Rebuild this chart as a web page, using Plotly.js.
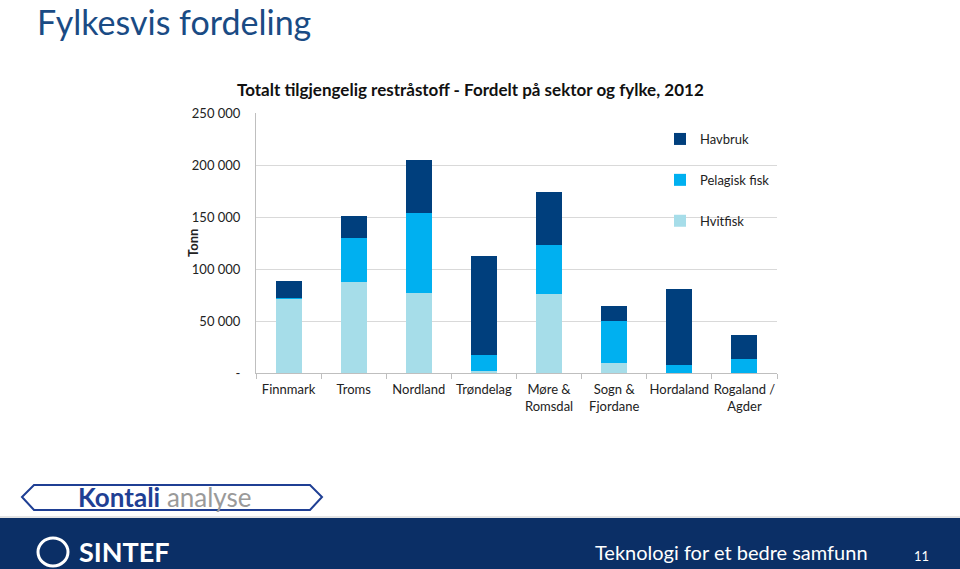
<!DOCTYPE html>
<html>
<head>
<meta charset="utf-8">
<script src="https://cdn.plot.ly/plotly-3.0.1.min.js"></script>
<style>
  html, body { margin: 0; padding: 0; background: #fff; }
  #plot { width: 960px; height: 569px; }
</style>
</head>
<body>
<div id="plot"></div>
<script>
// chart data
var fylker = ['Finnmark', 'Troms', 'Nordland', 'Trøndelag', 'Møre &<br>Romsdal',
              'Sogn &<br>Fjordane', 'Hordaland', 'Rogaland /<br>Agder'];
var hvitfisk = [71000, 87600, 77000, 1600, 76400, 10000, 0, 0];
var pelagisk = [1500, 42400, 77100, 16100, 46500, 40400, 7700, 13500];
var havbruk  = [16300, 21200, 51000, 94700, 51400, 13800, 73200, 22800];

var yTicks = [0, 50000, 100000, 150000, 200000, 250000];
var yTickText = ['-', '50 000', '100 000', '150 000', '200 000', '250 000'];

// plot area in page pixels
var L = 256, R = 777, T = 113, B = 373;
function px(x) { return (x - L) / (R - L); }
function py(y) { return (B - y) / (B - T); }

var font = 'Lato, "Open Sans", sans-serif';

var traces = [
    { name: 'Hvitfisk', y: hvitfisk, color: '#a6dde9', rank: 3 },
    { name: 'Pelagisk fisk', y: pelagisk, color: '#00b0f0', rank: 2 },
    { name: 'Havbruk', y: havbruk, color: '#003f7d', rank: 1 }
].map(function (s) {
    return {
        type: 'bar',
        x: fylker,
        y: s.y,
        name: s.name,
        legendgroup: s.name,
        legendrank: s.rank,
        marker: { color: s.color },
        hoverinfo: 'x+y+name'
    };
});

var layout = {
    width: 960,
    height: 569,
    margin: { l: L, r: 960 - R, t: T, b: 569 - B },
    paper_bgcolor: '#ffffff',
    plot_bgcolor: '#ffffff',
    font: { family: font, size: 13, color: '#222' },
    barmode: 'stack',
    bargap: 0.6,
    showlegend: true,
    legend: {
        x: px(660), y: py(124), xanchor: 'left', yanchor: 'top',
        traceorder: 'grouped',
        tracegroupgap: 21,
        font: { size: 13, color: '#222' },
        bgcolor: 'rgba(0,0,0,0)'
    },
    xaxis: {
        showgrid: false,
        showline: true, linecolor: '#bfbfbf', linewidth: 1,
        ticks: 'outside', tickson: 'boundaries', ticklen: 5, tickcolor: '#bfbfbf',
        tickangle: 0,
        ticklabelstandoff: 4,
        tickfont: { size: 13, color: '#222' },
        fixedrange: true
    },
    yaxis: {
        range: [0, 250000],
        tickvals: yTicks,
        ticktext: yTickText,
        showgrid: true, gridcolor: '#d9d9d9',
        showline: true, linecolor: '#bfbfbf',
        zeroline: false,
        ticks: '',
        ticklabelstandoff: 12,
        tickfont: { size: 13, color: '#222' },
        fixedrange: true
    },
    shapes: [
        // dark footer band
        { type: 'rect', xref: 'paper', yref: 'paper',
          x0: px(0), x1: px(960), y0: py(518), y1: py(569),
          fillcolor: '#0b2f66', line: { width: 0 }, layer: 'above' },
        { type: 'line', xref: 'paper', yref: 'paper',
          x0: px(0), x1: px(960), y0: py(517), y1: py(517),
          line: { color: '#c8c8c8', width: 1 } },
        // SINTEF ring
        { type: 'circle', xref: 'paper', yref: 'paper',
          x0: px(38), x1: px(68), y0: py(538), y1: py(566),
          line: { color: '#ffffff', width: 3 }, layer: 'above' },
        // Kontali frame
        { type: 'path', xref: 'paper', yref: 'paper',
          path: 'M ' + px(22) + ',' + py(497) + ' L ' + px(34) + ',' + py(485) +
                ' L ' + px(310) + ',' + py(485) + ' L ' + px(322) + ',' + py(497) +
                ' L ' + px(310) + ',' + py(510) + ' L ' + px(34) + ',' + py(510) + ' Z',
          line: { color: '#1f3f94', width: 2 }, fillcolor: 'rgba(0,0,0,0)' }
    ],
    annotations: [
        { text: 'Fylkesvis fordeling', xref: 'paper', yref: 'paper',
          x: px(35), y: py(-1), xanchor: 'left', yanchor: 'top', showarrow: false,
          font: { family: font, size: 34, color: '#1a4b84' } },
        { text: '<b>Totalt tilgjengelig restråstoff - Fordelt på sektor og fylke, 2012</b>',
          xref: 'paper', yref: 'paper', x: px(470), y: py(89), xanchor: 'center', yanchor: 'middle',
          showarrow: false, font: { family: font, size: 17, color: '#111' } },
        { text: '<b>Tonn</b>', xref: 'paper', yref: 'paper', x: px(183), y: py(243),
          textangle: -90, showarrow: false, font: { family: font, size: 13, color: '#222' } },
        { text: '<b>Kontali</b> <span style="color:#9a9a9a">analyse</span>', xref: 'paper', yref: 'paper',
          x: px(165), y: py(497), xanchor: 'center', yanchor: 'middle', showarrow: false,
          font: { family: font, size: 26, color: '#1f3f94' } },
        { text: '<b>SINTEF</b>', xref: 'paper', yref: 'paper', x: px(77), y: py(551),
          xanchor: 'left', yanchor: 'middle', showarrow: false,
          font: { family: font, size: 27, color: '#ffffff' } },
        { text: 'Teknologi for et bedre samfunn', xref: 'paper', yref: 'paper', x: px(593), y: py(552),
          xanchor: 'left', yanchor: 'middle', showarrow: false,
          font: { family: font, size: 20, color: '#ffffff' } },
        { text: '11', xref: 'paper', yref: 'paper', x: px(921), y: py(556),
          xanchor: 'center', yanchor: 'middle', showarrow: false,
          font: { family: font, size: 13, color: '#ffffff' } }
    ]
};

Plotly.newPlot('plot', traces, layout, { displayModeBar: false, staticPlot: true });
</script>
</body>
</html>
